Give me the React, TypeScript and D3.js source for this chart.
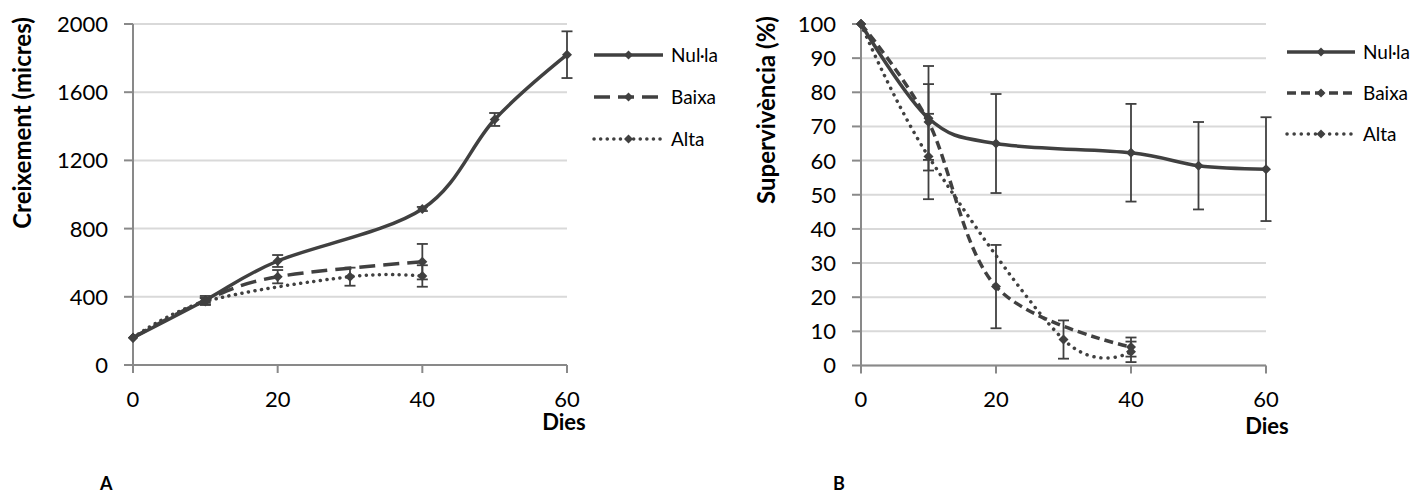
import React from "react";
import * as d3 from "d3";

// --- data ---
const seriesNames = ["Nul·la", "Baixa", "Alta"];
const dayTicks = [0, 20, 40, 60];

// A: growth (micres)
const growthTicks = [0, 400, 800, 1200, 1600, 2000];
const growthNullaDays = [0, 10, 20, 40, 50, 60];
const growthNullaValues = [160, 380, 610, 915, 1440, 1820];
const growthNullaErrors = [0, 15, 35, 12, 38, 137];
const growthBaixaDays = [0, 10, 20, 40];
const growthBaixaValues = [160, 380, 518, 606];
const growthBaixaErrors = [0, 25, 39, 104];
const growthAltaDays = [0, 10, 30, 40];
const growthAltaValues = [160, 372, 518, 522];
const growthAltaErrors = [0, 20, 53, 63];

// B: survival (%)
const survivalTicks = [0, 10, 20, 30, 40, 50, 60, 70, 80, 90, 100];
const survivalNullaDays = [0, 10, 20, 40, 50, 60];
const survivalNullaValues = [100, 72.4, 65, 62.3, 58.5, 57.5];
const survivalNullaErrors = [0, 15.3, 14.5, 14.3, 12.8, 15.2];
const survivalBaixaDays = [0, 10, 20, 40];
const survivalBaixaValues = [100, 71.3, 23.1, 5.4];
const survivalBaixaErrors = [0, 11.1, 12.2, 2.8];
const survivalAltaDays = [0, 10, 30, 40];
const survivalAltaValues = [100, 61.2, 7.6, 4];
const survivalAltaErrors = [0, 12.5, 5.6, 3];

type Pt = { day: number; value: number; err: number };
const zip = (days: number[], vals: number[], errs: number[]): Pt[] =>
  days.map((d, i) => ({ day: d, value: vals[i], err: errs[i] }));

const INK = "#404040";
const FONT = "Lato, 'Open Sans', sans-serif";

const diamond = (cx: number, cy: number, r: number) =>
  `M${cx},${cy - r}L${cx + r},${cy}L${cx},${cy + r}L${cx - r},${cy}Z`;

function Chart(props: any) {
  const { left, top, w, h, yMax, yTicks, series, dashes, legend, title, dies } = props;
  const x = d3.scaleLinear().domain([0, 60]).range([left, left + w]);
  const y = d3.scaleLinear().domain([0, yMax]).range([top + h, top]);
  const line = d3
    .line<Pt>()
    .x((d) => x(d.day))
    .y((d) => y(d.value))
    .curve(d3.curveCardinal);

  return (
    <g fontFamily={FONT}>
      {/* grid */}
      {yTicks.map((t: number) => (
        <line key={"g" + t} x1={x(0)} x2={x(60)} y1={y(t)} y2={y(t)} stroke="#d9d9d9" strokeWidth={2} />
      ))}
      {/* axes */}
      <line x1={x(0)} x2={x(0)} y1={y(0)} y2={y(yMax)} stroke="#898989" strokeWidth={2} />
      <line x1={x(0)} x2={x(60)} y1={y(0)} y2={y(0)} stroke="#898989" strokeWidth={2} />
      {yTicks.map((t: number) => (
        <g key={"yt" + t}>
          <line x1={x(0) - 9} x2={x(0)} y1={y(t)} y2={y(t)} stroke="#898989" strokeWidth={2} />
          <text x={x(0) - 25} y={y(t)} dy="0.36em" textAnchor="end" fontSize={22} fill="#000">
            {t}
          </text>
        </g>
      ))}
      {dayTicks.map((t) => (
        <g key={"xt" + t}>
          <line x1={x(t)} x2={x(t)} y1={y(0)} y2={y(0) + 8} stroke="#898989" strokeWidth={2} />
          <text x={x(t)} y={407} textAnchor="middle" fontSize={22} fill="#000">
            {t}
          </text>
        </g>
      ))}
      {/* titles */}
      <text
        transform={`translate(${title.x},${title.y}) rotate(-90)`}
        textAnchor="middle"
        fontSize={24}
        fontWeight="bold"
      >
        {title.text}
      </text>
      <text x={dies.x} y={dies.y} textAnchor="middle" fontSize={22} fontWeight="bold">
        Dies
      </text>
      {/* series */}
      {series.map((s: Pt[], i: number) => (
        <g key={"s" + i}>
          {s
            .filter((d) => d.err > 0)
            .map((d, j) => (
              <g key={j} stroke={INK} strokeWidth={1.8}>
                <line x1={x(d.day)} x2={x(d.day)} y1={y(d.value - d.err)} y2={y(d.value + d.err)} />
                <line x1={x(d.day) - 5.5} x2={x(d.day) + 5.5} y1={y(d.value - d.err)} y2={y(d.value - d.err)} />
                <line x1={x(d.day) - 5.5} x2={x(d.day) + 5.5} y1={y(d.value + d.err)} y2={y(d.value + d.err)} />
              </g>
            ))}
          <path
            d={line(s) || ""}
            fill="none"
            stroke={INK}
            strokeWidth={3.5}
            strokeDasharray={dashes[i]}
            strokeLinecap={i === 2 ? "round" : "butt"}
          />
          {s.map((d, j) => (
            <path key={"m" + j} d={diamond(x(d.day), y(d.value), 5)} fill={INK} />
          ))}
        </g>
      ))}
      {/* legend */}
      {seriesNames.map((n, i) => {
        const ly = legend.ys[i];
        return (
          <g key={"l" + n}>
            <line
              x1={legend.x1}
              x2={legend.x2}
              y1={ly}
              y2={ly}
              stroke={INK}
              strokeWidth={3.5}
              strokeDasharray={dashes[i]}
              strokeLinecap={i === 2 ? "round" : "butt"}
            />
            <path d={diamond((legend.x1 + legend.x2) / 2, ly, 4.5)} fill={INK} />
            <text x={legend.tx} y={ly} dy="0.36em" fontSize={19} fill="#000">
              {n}
            </text>
          </g>
        );
      })}
    </g>
  );
}

export default function App() {
  const growth = [
    zip(growthNullaDays, growthNullaValues, growthNullaErrors),
    zip(growthBaixaDays, growthBaixaValues, growthBaixaErrors),
    zip(growthAltaDays, growthAltaValues, growthAltaErrors),
  ];
  const survival = [
    zip(survivalNullaDays, survivalNullaValues, survivalNullaErrors),
    zip(survivalBaixaDays, survivalBaixaValues, survivalBaixaErrors),
    zip(survivalAltaDays, survivalAltaValues, survivalAltaErrors),
  ];
  return (
    <svg
      width={1415}
      height={495}
      style={{ position: "absolute", left: 0, top: 0, background: "#fff" }}
    >
      <rect width={1415} height={495} fill="#fff" />
      <Chart
        left={133}
        top={24}
        w={434}
        h={341}
        yMax={2000}
        yTicks={growthTicks}
        series={growth}
        dashes={[null, "16 8", "0.1 6.5"]}
        legend={{ x1: 594, x2: 663, tx: 671, ys: [55, 97, 139] }}
        title={{ text: "Creixement (micres)", x: 31, y: 123 }}
        dies={{ x: 564, y: 430 }}
      />
      <Chart
        left={861}
        top={24}
        w={405}
        h={341.5}
        yMax={100}
        yTicks={survivalTicks}
        series={survival}
        dashes={[null, "9 5", "0.1 7"]}
        legend={{ x1: 1287, x2: 1355, tx: 1363, ys: [52, 93, 134] }}
        title={{ text: "Supervivència (%)", x: 775, y: 110 }}
        dies={{ x: 1267, y: 434 }}
      />
      <text x={100} y={490} fontFamily={FONT} fontWeight="bold" fontSize={18}>
        A
      </text>
      <text x={833} y={490} fontFamily={FONT} fontWeight="bold" fontSize={18}>
        B
      </text>
    </svg>
  );
}
